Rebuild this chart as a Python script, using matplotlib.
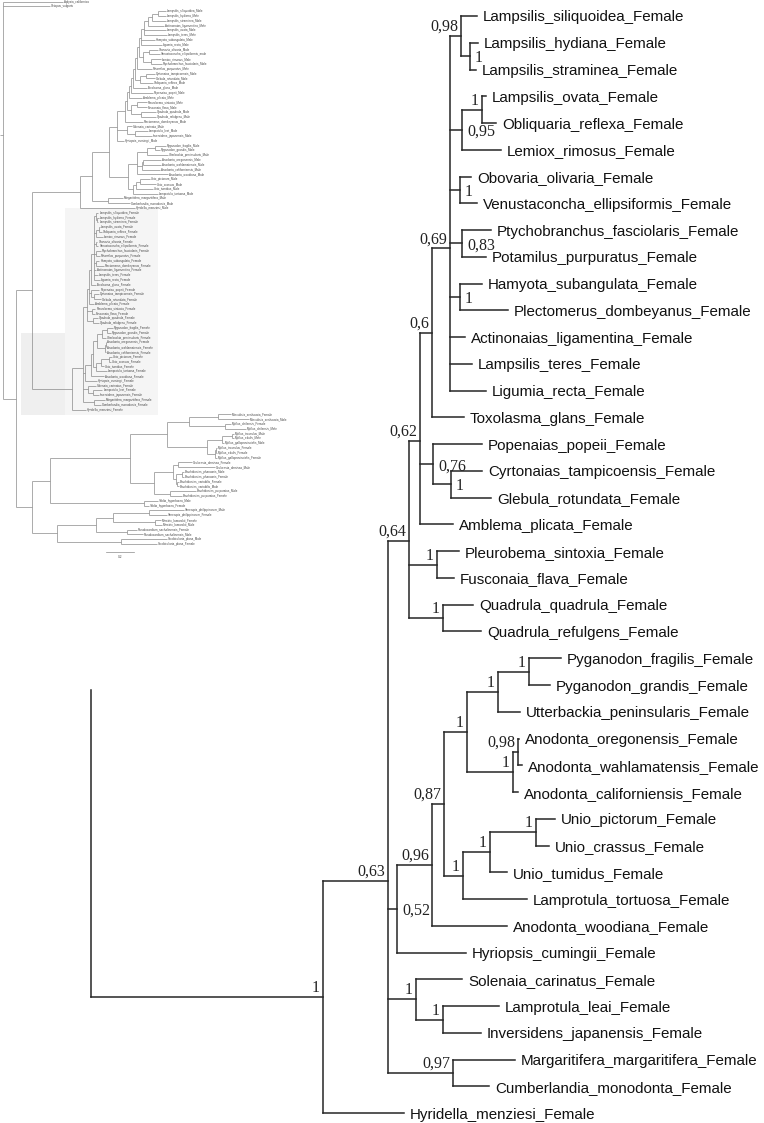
import matplotlib
matplotlib.use("Agg")
import matplotlib.pyplot as plt
from matplotlib.collections import LineCollection
from matplotlib.patches import Rectangle

# ---- female clade (main tree), branch lengths in main-plot units, support 'r' = label right of node
N098 = "(Lampsilis_siliquoidea_Female:16,(Lampsilis_hydiana_Female:8,Lampsilis_straminea_Female:6)1r:9)0.98:11"
N095 = "((Lampsilis_ovata_Female:4,Obliquaria_reflexa_Female:14)1:20,Lemiox_rimosus_Female:39)0.95r:12"
OBVE = "(Obovaria_olivaria_Female:11,Venustaconcha_ellipsiformis_Female:17)1r:10"
PTYC = "(Ptychobranchus_fasciolaris_Female:29,Potamilus_purpuratus_Female:24)0.83r:12"
HAMY = "(Hamyota_subangulata_Female:22,Plectomerus_dombeyanus_Female:48)1r:10"
N069 = ("(" + N098 + "," + N095 + "," + OBVE + "," + PTYC + "," + HAMY +
        ",Actinonaias_ligamentina_Female:15,Lampsilis_teres_Female:22,Ligumia_recta_Female:36)0.69:18")
N06 = "(" + N069 + ",Toxolasma_glans_Female:32)0.6:12"
POPE = "(Popenaias_popeii_Female:49,(Cyrtonaias_tampicoensis_Female:31,Glebula_rotundata_Female:40)1r:18)0.76r:13"
N062 = "(" + N06 + "," + POPE + ",Amblema_plicata_Female:33)0.62:11"
PLEU = "(Pleurobema_sintoxia_Female:22,Fusconaia_flava_Female:17)1:28"
QUAD = "(Quadrula_quadrula_Female:30,Quadrula_refulgens_Female:38)1:34"
N064 = "(" + N062 + "," + PLEU + "," + QUAD + ")0.64:21"
PYGA = "((Pyganodon_fragilis_Female:32,Pyganodon_grandis_Female:21)1:31,Utterbackia_peninsularis_Female:22)1:31"
ANOD = "((Anodonta_oregonensis_Female:1,Anodonta_wahlamatensis_Female:4)0.98:5,Anodonta_californiensis_Female:5)1:46"
UNIO = ("(((Unio_pictorum_Female:19,Unio_crassus_Female:13)1:46,Unio_tumidus_Female:17)1:27,"
        "Lamprotula_tortuosa_Female:64)1:19")
N052 = "(((" + PYGA + "," + ANOD + ")1:23," + UNIO + ")0.87:12,Anodonta_woodiana_Female:75)0.96:35,Hyriopsis_cumingii_Female:69)0.52r:9"
SOLE = "(Solenaia_carinatus_Female:46,(Lamprotula_leai_Female:56,Inversidens_japanensis_Female:38)1:27)1:28"
MARG = "(Margaritifera_margaritifera_Female:62,Cumberlandia_monodonta_Female:36)0.97:65"
FEMALE = "((" + N064 + ",(" + N052 + "," + SOLE + "," + MARG + ")0.63:65,Hyridella_menziesi_Female:81)1:232"
MAIN_PRUNED_ROW = 25.2          # where the pruned male clade hangs off the root

# ---- inset (whole tree), lengths in inset units (scale bar 0.2 = 28)
LAMP_M = ("((((((((((((Lampsilis_siliquoidea_Male:8,Lampsilis_hydiana_Male:8):6,Lampsilis_straminea_Male:14):4,"
          "Actinonaias_ligamentina_Male:16):4,Lampsilis_ovata_Male:22,Lampsilis_teres_Male:23):3,"
          "Hamyota_subangulata_Male:14,Ligumia_recta_Male:21):2,((Obovaria_olivaria_Male:9,"
          "Venustaconcha_ellipsiformis_male:11):6,(Lemiox_rimosus_Male:10,Ptychobranchus_fasciolaris_Male:11):8):4):2,"
          "Potamilus_purpuratus_Male:15):2,((Cyrtonaias_tampicoensis_Male:9,Glebula_rotundata_Male:9):6,"
          "Obliquaria_reflexa_Male:13):5):2,Toxolasma_glans_Male:14):2,Popenaias_popeii_Male:22):2,"
          "Amblema_plicata_Male:13):2,((Pleurobema_sintoxia_Male:10,Fusconaia_flava_Male:10):6,"
          "(Quadrula_quadrula_Male:15,Quadrula_refulgens_Male:15):10):4):2,Plectomerus_dombeyanus_Male:18)")
SOLE_M = "(Solenaia_carinata_Male:5,(Lamprotula_leai_Male:13,Inversidens_japanensis_Male:17):8)"
ANOD_M = ("(((Pyganodon_fragilis_Male:11,Pyganodon_grandis_Male:5):8,Utterbackia_peninsularis_Male:21):10,"
          "((Anodonta_oregonensis_Male:18,Anodonta_wahlamatensis_Male:18):1,Anodonta_californiensis_Male:18):5,"
          "Anodonta_woodiana_Male:31)")
UNIO_M = "(((Unio_pictorum_Male:10,Unio_crassus_Male:16):4,Unio_tumidus_Male:17):3,Lamprotula_tortuosa_Male:25)"
MALE = ("(((((" + LAMP_M + ":8," + SOLE_M + ":10,Hyriopsis_cumingii_Male:7):8,(" + ANOD_M + ":9," + UNIO_M +
        ":5):19):17,(Margaritifera_margaritifera_Male:15,Cumberlandia_monodonta_Male:22):16):12,"
        "Hyridella_menziesi_Male:55):48")
MYTI = ("(((Musculista_senhousia_Female:13,Musculista_senhousia_Male:31):29,(Mytilus_chilensis_Female:6,"
        "Mytilus_chilensis_Male:21):36):22,(((Mytilus_trossulus_Male:2,Mytilus_edulis_Male:2):10,"
        "Mytilus_galloprovincialis_Male:2):15,((Mytilus_trossulus_Female:1,Mytilus_edulis_Female:1):0.5,"
        "Mytilus_galloprovincialis_Female:1.5):8):40)")
BRAC = ("(((Geukensia_demissa_Female:14,Geukensia_demissa_Male:37):5,((Brachidontes_pharaonis_Male:2,"
        "Brachidontes_pharaonis_Female:2):6,(Brachidontes_variabilis_Female:2,Brachidontes_variabilis_Male:2):1):3):19,"
        "(Brachidontes_purpuratus_Male:26,Brachidontes_purpuratus_Female:12):16)")
VENE = ("((((Venerupis_philippinarum_Male:35,Venerupis_philippinarum_Female:18):36,(Meretrix_lamarckii_Female:6,"
        "Meretrix_lamarckii_Male:7):42):17,(Pseudocardium_sachalinensis_Female:10,"
        "Pseudocardium_sachalinensis_Male:16):31):39,(Scrobicularia_plana_Male:46,Scrobicularia_plana_Female:36):64)")
OTHERS = "(((" + MYTI + ":37," + BRAC + ":24):80,(Yoldia_hyperborea_Male:14,Yoldia_hyperborea_Female:5):94):18," + VENE + ":25)"
INSET = "(Aplysia_californica:60,Octopus_vulgaris:47,((MALE_CLADE,FEMALE_CLADE:40):16," + OTHERS + ":16):13):3"
INSET_FEMALE_SCALE = 0.172
SCALE_BAR = 0.2


def parse(s):
    pos = [0]

    def node():
        kids = []
        if s[pos[0]] == "(":
            pos[0] += 1
            kids.append(node())
            while s[pos[0]] == ",":
                pos[0] += 1
                kids.append(node())
            pos[0] += 1
        st = pos[0]
        while pos[0] < len(s) and s[pos[0]] not in ",():":
            pos[0] += 1
        name = s[st:pos[0]]
        ln = 0.0
        if pos[0] < len(s) and s[pos[0]] == ":":
            pos[0] += 1
            st = pos[0]
            while pos[0] < len(s) and s[pos[0]] not in ",()":
                pos[0] += 1
            ln = float(s[st:pos[0]])
        return {"name": name, "len": ln, "kids": kids}
    return node()


def walk(n):
    yield n
    for k in n["kids"]:
        yield from walk(k)


def place(n, x0, cnt, xs=1.0):
    n["x"] = x0 + n["len"] * xs
    if n["kids"]:
        for k in n["kids"]:
            place(k, n["x"], cnt, xs)
        n["y"] = sum(k["y"] for k in n["kids"]) / len(n["kids"])
    else:
        n["y"] = cnt[0]
        cnt[0] += 1


def segs(root, y0, dy):
    out = []
    for n in walk(root):
        if n["kids"]:
            ys = [y0 + k["y"] * dy for k in n["kids"]]
            out.append([(n["x"], min(ys)), (n["x"], max(ys))])
            for k, yk in zip(n["kids"], ys):
                out.append([(n["x"], yk), (k["x"], yk)])
    return out


fig = plt.figure(figsize=(7.64, 11.23), dpi=100)
ax = fig.add_axes([0, 0, 1, 1])
ax.set_xlim(0, 764)
ax.set_ylim(1123, 0)
ax.axis("off")

# ---------------- inset overview tree
inset = parse(INSET)
male = parse(MALE)
female_small = parse(FEMALE)
for n in walk(female_small):
    n["len"] *= INSET_FEMALE_SCALE
female_small["len"] = 40
for n in walk(inset):
    for i, k in enumerate(n["kids"]):
        if k["name"] == "MALE_CLADE":
            n["kids"][i] = male
        elif k["name"] == "FEMALE_CLADE":
            n["kids"][i] = female_small
place(inset, 0, [0])
IY0, IDY = 1.5, 4.8
ax.add_patch(Rectangle((65, 208), 93, 207, facecolor="#f5f5f5", edgecolor="none", zorder=0))
ax.add_patch(Rectangle((21, 333), 44, 82, facecolor="#efefef", edgecolor="none", zorder=0))
iseg = segs(inset, IY0, IDY)
iseg.append([(0, IY0 + inset["y"] * IDY), (inset["x"], IY0 + inset["y"] * IDY)])
ax.add_collection(LineCollection(iseg, colors="#8a8a8a", linewidths=0.5, zorder=2))
for n in walk(inset):
    if not n["kids"]:
        ax.text(n["x"] + 1, IY0 + n["y"] * IDY, n["name"], fontsize=2.1, color="#444444",
                family="Liberation Sans", va="center", ha="left")
ax.plot([106, 106 + SCALE_BAR * 140], [552, 552], color="#8a8a8a", lw=0.5)
ax.text(120, 557, "0.2", fontsize=2.1, color="#444444", ha="center", va="center")

# ---------------- main female tree
tree = parse(FEMALE)
MY0, MDY = 16, 26.76
ROOT_X = 91
place(tree, ROOT_X, [0])
mseg = segs(tree, MY0, MDY)
ty = MY0 + tree["y"] * MDY
mseg.append([(ROOT_X, ty), (tree["x"], ty)])
mseg.append([(ROOT_X, MY0 + MAIN_PRUNED_ROW * MDY), (ROOT_X, ty)])
ax.add_collection(LineCollection(mseg, colors="#262626", linewidths=1.1, capstyle="projecting", zorder=3))

for n in walk(tree):
    y = MY0 + n["y"] * MDY
    if not n["kids"]:
        ax.text(n["x"] + 6, y, n["name"], fontsize=10.9, family="Liberation Sans",
                va="center_baseline", ha="left", color="#111111")
    elif n["name"]:
        lab = n["name"].rstrip("r").replace(".", ",")
        if n["name"].endswith("r"):
            ax.text(n["x"] + 5, y, lab, fontsize=11.5, family="Liberation Serif",
                    va="center_baseline", ha="left", color="#222222")
        else:
            ax.text(n["x"] - 3, y - 11, lab, fontsize=11.5, family="Liberation Serif",
                    va="center_baseline", ha="right", color="#222222")

fig.savefig("out.png", dpi=100)
